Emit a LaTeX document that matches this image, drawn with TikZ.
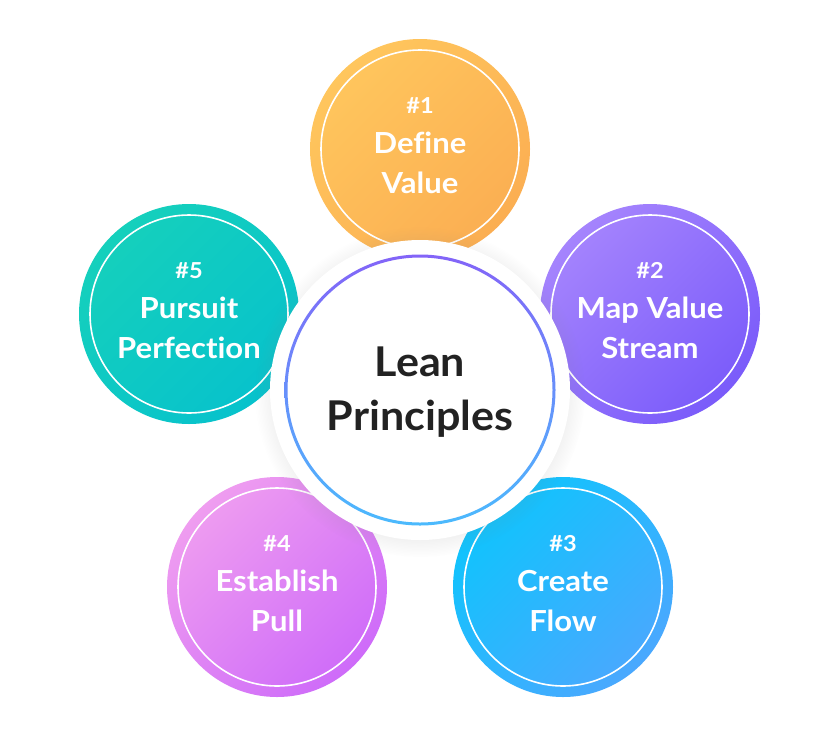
\documentclass[tikz,border=0pt]{standalone}
\usepackage{fontspec}
\setmainfont{Lato}[Ligatures=NoCommon]
\newfontfamily\petalfont{Lato}[FakeStretch=1.07, Ligatures=NoCommon]
\newfontfamily\hubfont{Lato}[FakeStretch=1.05, Ligatures=NoCommon]
\usetikzlibrary{shadows,calc}
\definecolor{oA}{HTML}{FFC65D}\definecolor{oB}{HTML}{FBAE52}
\definecolor{vA}{HTML}{A584FD}\definecolor{vB}{HTML}{7A5BFA}
\definecolor{bA}{HTML}{0FC4FD}\definecolor{bB}{HTML}{4AA8FE}
\definecolor{mA}{HTML}{EF9DF0}\definecolor{mB}{HTML}{CE6BF9}
\definecolor{tA}{HTML}{15D0BC}\definecolor{tB}{HTML}{07C2CC}
\definecolor{rA}{HTML}{8364F8}\definecolor{rB}{HTML}{4BBAFD}
\definecolor{ink}{HTML}{222222}
\tikzset{
  petal/.style={circle, inner sep=0pt, minimum size=220pt},
  diag/.style={shading angle=45},
  petalring/.style={draw=white, line width=1.6pt},
  numtxt/.style={anchor=base, text=white, inner sep=0pt, font=\fontsize{22}{24}\petalfont\bfseries},
  nametxt/.style={anchor=base, text=white, inner sep=0pt, font=\fontsize{29}{32}\petalfont\bfseries},
  hubtxt/.style={anchor=base, text=ink, inner sep=0pt, font=\fontsize{41}{44}\hubfont\bfseries},
}
\begin{document}
\begin{tikzpicture}[x=1pt,y=-1pt]
\useasboundingbox[fill=white] (0,0) rectangle (840,737);
% petals
\node[petal, top color=oA, bottom color=oB, diag] (p1) at (420,149) {};
\node[petal, top color=vA, bottom color=vB, diag] (p2) at (650,314) {};
\node[petal, top color=bA, bottom color=bB, diag] (p3) at (563,587) {};
\node[petal, top color=mA, bottom color=mB, diag] (p4) at (277,587) {};
\node[petal, top color=tA, bottom color=tB, diag] (p5) at (189,314) {};
\foreach \p in {p1,p2,p3,p4,p5}{\draw[petalring] (\p.center) circle[radius=99pt];}
% texts
\node[numtxt]  (p1n) at ($(p1.center)+(0,-36)$) {\#1};
\node[nametxt] (p1a) at ($(p1.center)+(0,4)$) {Define};
\node[nametxt] (p1b) at ($(p1.center)+(0,44)$) {Value};
\node[numtxt]  (p2n) at ($(p2.center)+(0,-36)$) {\#2};
\node[nametxt] (p2a) at ($(p2.center)+(0,4)$) {Map Value};
\node[nametxt] (p2b) at ($(p2.center)+(0,44)$) {Stream};
\node[numtxt]  (p3n) at ($(p3.center)+(0,-36)$) {\#3};
\node[nametxt] (p3a) at ($(p3.center)+(0,4)$) {Create};
\node[nametxt] (p3b) at ($(p3.center)+(0,44)$) {Flow};
\node[numtxt]  (p4n) at ($(p4.center)+(0,-36)$) {\#4};
\node[nametxt] (p4a) at ($(p4.center)+(0,4)$) {Establish};
\node[nametxt] (p4b) at ($(p4.center)+(0,44)$) {Pull};
\node[numtxt]  (p5n) at ($(p5.center)+(0,-36)$) {\#5};
\node[nametxt] (p5a) at ($(p5.center)+(0,4)$) {Pursuit};
\node[nametxt] (p5b) at ($(p5.center)+(0,44)$) {Perfection};
% hub
\node[circle, inner sep=0pt, minimum size=300pt, fill=white,
  circular drop shadow={shadow xshift=0pt, shadow yshift=-2pt, shadow scale=1.1, opacity=0.14}] (hub) at (420,390) {};
\shade[top color=rA, bottom color=rB, even odd rule] (hub.center) circle[radius=135.5pt] (hub.center) circle[radius=132.5pt];
\node[hubtxt] (hub1) at ($(hub.center)+(0,-14)$) {Lean};
\node[hubtxt] (hub2) at ($(hub.center)+(0,40)$) {Principles};
\end{tikzpicture}
\end{document}
